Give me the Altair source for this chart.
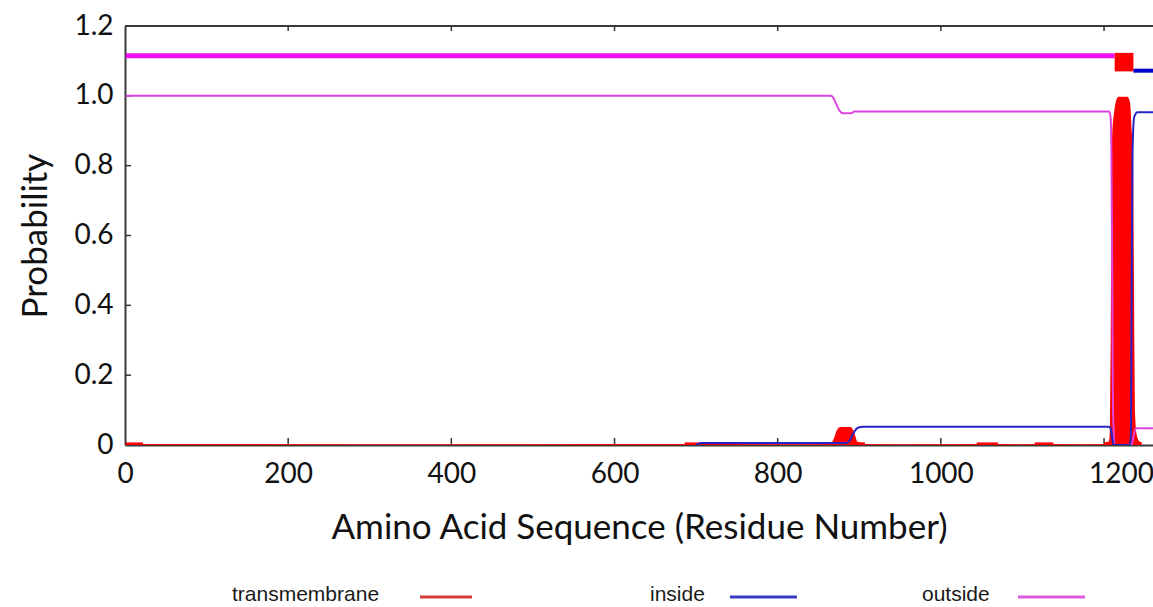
import altair as alt
import pandas as pd

# Axis ticks
x_ticks = [0, 200, 400, 600, 800, 1000, 1200]
y_ticks = [0, 0.2, 0.4, 0.6, 0.8, 1.0, 1.2]

# Posterior probability of the "outside" state along the sequence
outside_pos = [1, 865, 868, 872, 876, 880, 890, 894, 898, 1206, 1208, 1209, 1210,
               1211, 1213, 1233, 1235, 1237, 1239, 1273]
outside_prob = [1.0, 1.0, 0.995, 0.975, 0.957, 0.950, 0.950, 0.955, 0.955, 0.955,
                0.94, 0.85, 0.5, 0.1, 0.0, 0.0, 0.01, 0.035, 0.048, 0.048]

# Posterior probability of the "inside" state
inside_pos = [700, 706, 884, 888, 892, 896, 900, 904, 1206, 1208, 1210, 1212,
              1232, 1233, 1234, 1235, 1237, 1241, 1273]
inside_prob = [0.0, 0.006, 0.006, 0.012, 0.03, 0.045, 0.051, 0.052, 0.052, 0.048,
               0.02, 0.0, 0.0, 0.05, 0.5, 0.85, 0.94, 0.953, 0.953]

# Posterior probability of the transmembrane state, one list per stretch
tm_segments = {
    "nterm": ([1, 22], [0.003, 0.003]),
    "s686": ([686, 705], [0.003, 0.003]),
    "s880": ([864, 868, 871, 874, 877, 889, 892, 895, 897, 907],
             [0.003, 0.006, 0.02, 0.04, 0.047, 0.047, 0.035, 0.012, 0.005, 0.003]),
    "s1044": ([1044, 1070], [0.003, 0.003]),
    "s1115": ([1115, 1138], [0.003, 0.003]),
    "tmhelix": ([1200, 1206, 1208, 1209, 1210, 1211, 1212, 1214, 1216, 1218, 1228,
                 1230, 1231, 1232, 1233, 1234, 1235, 1236, 1238, 1241, 1246],
                [0.003, 0.005, 0.012, 0.05, 0.3, 0.75, 0.9, 0.95, 0.98, 0.993, 0.993,
                 0.98, 0.95, 0.9, 0.87, 0.75, 0.4, 0.1, 0.03, 0.01, 0.003]),
}

# Predicted topology (start, end, state)
topo_start = [1, 1213, 1236]
topo_end = [1213, 1236, 1273]
topo_state = ["outside", "TMhelix", "inside"]

RED = "#ff0000"
BLUE = "#2424c8"
MAGENTA = "#dd44dd"
FONT = "Lato"

outside_df = pd.DataFrame({"pos": outside_pos, "prob": outside_prob})
inside_df = pd.DataFrame({"pos": inside_pos, "prob": inside_prob})
tm_df = pd.concat(
    [pd.DataFrame({"pos": p, "prob": v, "seg": k}) for k, (p, v) in tm_segments.items()],
    ignore_index=True,
)
topo_df = pd.DataFrame({"pos": topo_start, "end": topo_end, "state": topo_state})

W, H = 1028, 419
xs = alt.Scale(domain=[0, 1260], nice=False, zero=False)
ys = alt.Scale(domain=[0, 1.2], nice=False)

xaxis = alt.Axis(
    values=x_ticks, ticks=False, grid=False, domainColor="#3a3a3a", domainWidth=2,
    labelFont=FONT, labelFontSize=28, labelColor="#111111", labelPadding=15,
    labelFlush=False, labelExpr="'' + datum.value",
    labelOffset={"condition": {"test": "datum.value == 1200", "value": 17}, "value": 0},
    title="Amino Acid Sequence (Residue Number)", titleFont=FONT, titleFontSize=35,
    titleFontWeight="normal", titleColor="#111111", titlePadding=22,
)
yaxis = alt.Axis(
    values=y_ticks, ticks=False, grid=False, domainColor="#3a3a3a", domainWidth=2,
    labelFont=FONT, labelFontSize=28, labelColor="#111111", labelPadding=12,
    labelExpr="datum.value == 0 ? '0' : format(datum.value, '.1f')",
    title="Probability", titleFont=FONT, titleFontSize=35, titleFontWeight="normal",
    titleColor="#111111", titlePadding=20,
)

X = alt.X("pos:Q", scale=xs, axis=xaxis)
Y = alt.Y("prob:Q", scale=ys, axis=yaxis)

# Frame: top border and inward ticks
top_border = alt.Chart(alt.Data(values=[{}])).mark_rule(
    color="#3a3a3a", strokeWidth=2
).encode(y=alt.YDatum(1.2, scale=ys, axis=yaxis))

tick_df = pd.DataFrame({"pos": x_ticks[1:]})
bottom_ticks = alt.Chart(tick_df).mark_rule(color="#333333", strokeWidth=1.5).encode(
    x=X, y=alt.value(H), y2=alt.value(H - 7)
)
top_ticks = alt.Chart(tick_df).mark_rule(color="#333333", strokeWidth=1.5).encode(
    x=X, y=alt.value(0), y2=alt.value(5)
)
left_ticks = alt.Chart(pd.DataFrame({"prob": y_ticks[1:-1]})).mark_rule(
    color="#333333", strokeWidth=1.5
).encode(y=Y, x=alt.value(0), x2=alt.value(6))

tm_area = alt.Chart(tm_df).mark_area(color=RED, clip=True, interpolate="monotone").encode(
    x=X, y=Y, detail="seg:N"
)
tm_edge = alt.Chart(tm_df).mark_line(color=RED, strokeWidth=3, clip=True,
                                     interpolate="monotone").encode(
    x=X, y=Y, detail="seg:N"
)
outside_line = alt.Chart(outside_df).mark_line(
    color=MAGENTA, strokeWidth=2, clip=True, interpolate="monotone"
).encode(x=X, y=Y)
inside_line = alt.Chart(inside_df).mark_line(
    color=BLUE, strokeWidth=2, clip=True, interpolate="monotone"
).encode(x=X, y=Y)

# Topology bar above the curves
topo_out = alt.Chart(topo_df).transform_filter("datum.state == 'outside'").mark_rule(
    color="#f010f0", strokeWidth=5, clip=True
).encode(x=X, x2="end:Q", y=alt.YDatum(1.115, scale=ys, axis=yaxis))
topo_in = alt.Chart(topo_df).transform_filter("datum.state == 'inside'").mark_rule(
    color="#0000d0", strokeWidth=4, clip=True
).encode(x=X, x2="end:Q", y=alt.YDatum(1.072, scale=ys, axis=yaxis))
topo_tm = alt.Chart(topo_df).transform_filter("datum.state == 'TMhelix'").mark_rect(
    color=RED, clip=True
).encode(x=X, x2="end:Q", y=alt.YDatum(1.07, scale=ys, axis=yaxis), y2=alt.Y2Datum(1.123))

# Legend row under the axis title
legend_layers = []
legend_items = [
    ("transmembrane", 107, 295, 347, "#d23c3c"),
    ("inside", 525, 605, 672, "#3a3ac0"),
    ("outside", 797, 893, 960, "#e058e0"),
]
for label, tx, lx1, lx2, col in legend_items:
    legend_layers.append(
        alt.Chart(alt.Data(values=[{}])).mark_text(
            text=label, font="Liberation Sans", fontSize=21, align="left",
            baseline="middle", color="#1a1a1a"
        ).encode(x=alt.value(tx), y=alt.value(569))
    )
    legend_layers.append(
        alt.Chart(alt.Data(values=[{}])).mark_rule(color=col, strokeWidth=3).encode(
            x=alt.value(lx1), x2=alt.value(lx2), y=alt.value(571)
        )
    )

chart = alt.layer(
    top_border, bottom_ticks, top_ticks, left_ticks,
    tm_area, tm_edge, outside_line, inside_line,
    topo_out, topo_in, topo_tm,
    *legend_layers,
).properties(
    width=W, height=H, autosize="none",
    padding={"left": 125, "top": 26, "right": 0, "bottom": 162},
    background="white",
).configure_view(stroke=None)

chart.save("out.html", embed_options={"renderer": "svg", "actions": False})
